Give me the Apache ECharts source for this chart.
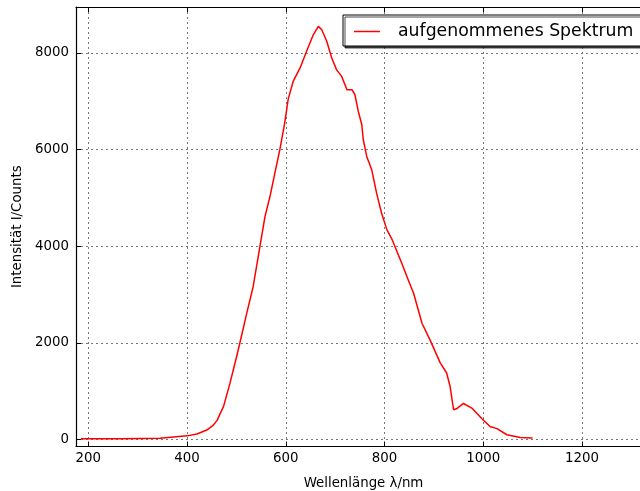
<!DOCTYPE html>
<html>
<head>
<meta charset="utf-8">
<script src="https://cdn.jsdelivr.net/npm/echarts@6/dist/echarts.min.js"></script>
<style>
  html, body { margin: 0; padding: 0; background: #fff; }
  #chart { width: 640px; height: 491px; }
</style>
</head>
<body>
<div id="chart"></div>
<script>
// Recorded spectrum: wavelength (nm) and intensity (counts)
const wavelength = [185, 264, 345, 400, 420, 440, 452, 461, 467, 474, 487, 500, 507, 521, 534, 547, 558, 568, 578, 588,
  598, 605, 615, 629, 642, 656, 666, 673, 683, 693, 703, 713, 724, 734, 740, 747, 754, 757, 764, 774,
  784, 794, 805, 815, 835, 848, 859, 876, 892, 913, 926, 933, 940, 946, 960, 977, 997, 1014, 1028, 1048,
  1075, 1100];
const counts = [20, 20, 30, 80, 120, 200, 290, 400, 540, 690, 1170, 1700, 2000, 2620, 3170, 3960, 4620, 5030, 5520, 6000,
  6560, 7050, 7410, 7690, 8030, 8380, 8550, 8480, 8240, 7900, 7650, 7520, 7240, 7240, 7140, 6790, 6520, 6210, 5860, 5590,
  5100, 4690, 4340, 4150, 3650, 3310, 3030, 2410, 2070, 1590, 1380, 1100, 620, 640, 750, 655, 440, 275, 230, 103,
  48, 35];

const seriesName = 'aufgenommenes Spektrum';
const xTitle = 'Wellenlänge λ/nm';
const yTitle = 'Intensität I/Counts';

const xMin = 175, xMax = 1340;
const yMin = -140, yMax = 8950;

const font = 'DejaVu Sans';
const plain = v => String(v);
const gridLine = { show: true, lineStyle: { color: '#777', width: 1, type: [2, 3] } };
const frame = { show: true, onZero: false, lineStyle: { color: '#000', width: 1.2 } };
const ticksIn = { show: true, inside: true, length: 5, lineStyle: { color: '#000', width: 1 } };

const chart = echarts.init(document.getElementById('chart'), null, { renderer: 'canvas' });

chart.setOption({
  animation: false,
  backgroundColor: '#fff',
  grid: { left: 76, top: 7, width: 575, height: 439.5, containLabel: false, outerBoundsMode: 'none' },
  legend: {
    left: 343, top: 15,
    padding: [8, 9, 6, 11],
    itemWidth: 26, itemHeight: 1.5,
    backgroundColor: '#fff',
    borderColor: '#000', borderWidth: 1,
    shadowColor: 'rgba(0,0,0,0.7)', shadowBlur: 0, shadowOffsetX: 2, shadowOffsetY: 2,
    textStyle: { fontFamily: font, fontSize: 17.3, color: '#000', padding: [0, 0, 0, 13] },
    data: [{ name: seriesName, icon: 'rect', itemStyle: { color: '#ff0000' } }]
  },
  xAxis: [{
    type: 'value', position: 'bottom', min: xMin, max: xMax, splitNumber: 6,
    axisLine: frame, axisTick: ticksIn, splitLine: gridLine,
    axisLabel: { fontFamily: font, fontSize: 13.33, color: '#000', margin: 6, formatter: plain,
      showMinLabel: false, showMaxLabel: false },
    name: xTitle, nameLocation: 'middle', nameGap: 31,
    nameTextStyle: { fontFamily: font, fontSize: 13.33, color: '#000' }
  }, {
    type: 'value', position: 'top', min: xMin, max: xMax, splitNumber: 6,
    axisLine: frame, axisTick: ticksIn, splitLine: { show: false }, axisLabel: { show: false }
  }],
  yAxis: [{
    type: 'value', position: 'left', min: yMin, max: yMax, splitNumber: 5,
    axisLine: frame, axisTick: ticksIn, splitLine: gridLine,
    axisLabel: { fontFamily: font, fontSize: 13.33, color: '#000', margin: 7, formatter: plain,
      showMinLabel: false, showMaxLabel: false },
    name: yTitle, nameLocation: 'middle', nameGap: 49,
    nameTextStyle: { fontFamily: font, fontSize: 13.33, color: '#000' }
  }],
  series: [{
    name: seriesName,
    type: 'line',
    xAxisIndex: 0, yAxisIndex: 0,
    data: wavelength.map((w, i) => [w, counts[i]]),
    showSymbol: false, symbol: 'none',
    lineStyle: { color: '#ff0000', width: 1.5 },
    itemStyle: { color: '#ff0000' }
  }]
});
</script>
</body>
</html>
